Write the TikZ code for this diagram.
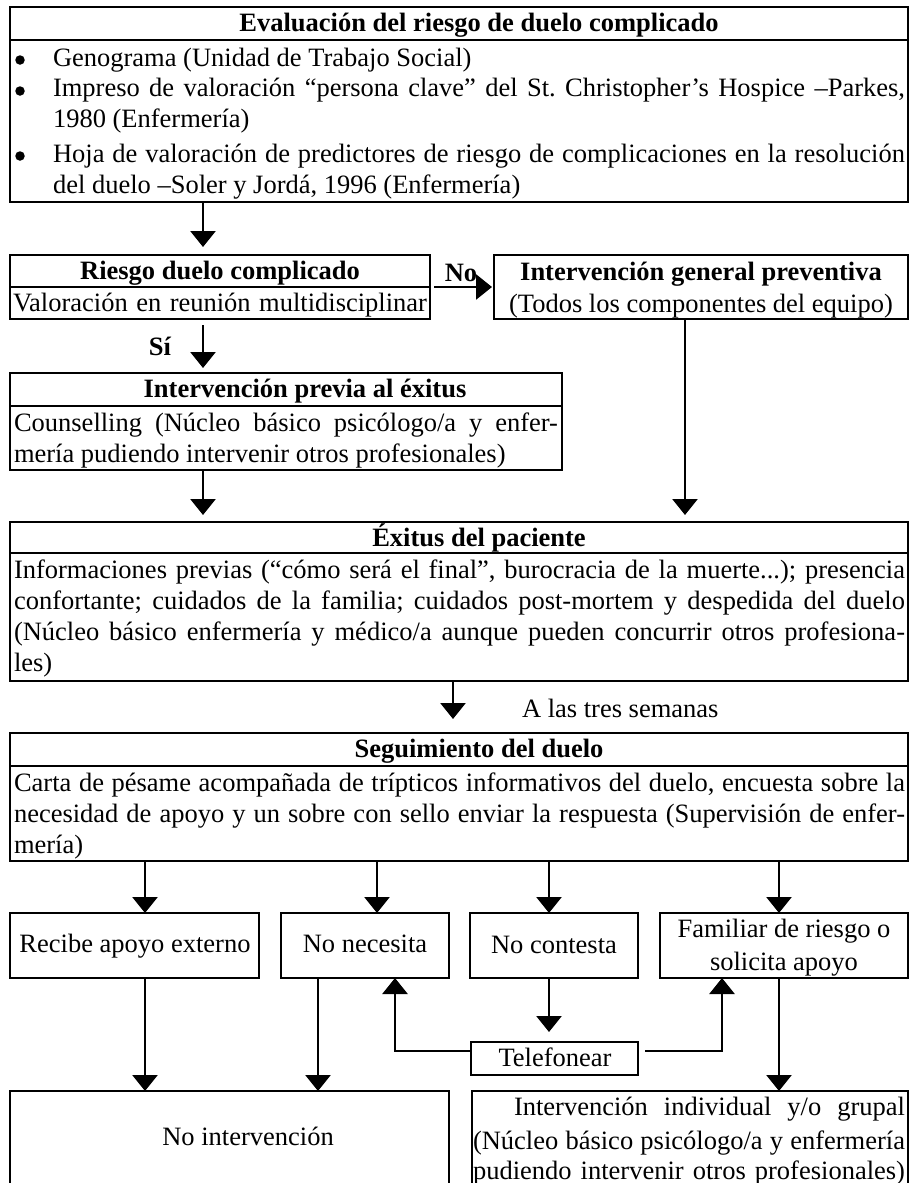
\documentclass[tikz,border=0pt]{standalone}
\usepackage{fontspec}
\setmainfont{Liberation Serif}
\usepackage{graphicx}
\usetikzlibrary{arrows.meta}
\newsavebox\jlbox
\newcommand\jl[2]{%
  \sbox\jlbox{#2}%
  \ifdim\wd\jlbox>#1\relax
    \resizebox{#1}{\height}{\usebox\jlbox}%
  \else
    \makebox[#1][s]{#2}%
  \fi}
\frenchspacing
\begin{document}
\begin{tikzpicture}[x=1pt,y=-1pt,
  box/.style={draw, line width=2pt, rectangle, inner sep=0pt, outer sep=0pt, anchor=north west},
  sepline/.style={line width=2pt},
  arr/.style={line width=2.7pt, -{Triangle[length=16pt,width=25pt]}},
  bul/.style={circle, fill, inner sep=0pt, minimum size=9.5pt},
  txt/.style={inner sep=0pt, outer sep=0pt, font=\fontsize{26.5pt}{31pt}\selectfont},
  tl/.style={txt, anchor=base west},
  tc/.style={txt, anchor=base},
  tb/.style={txt, anchor=base, font=\fontsize{26.5pt}{31pt}\selectfont\bfseries}]
\fill[white] (0,0) rectangle (910,1183);
\useasboundingbox (0,0) rectangle (910,1183);
\clip (0,0) rectangle (910,1183);

% boxes
\node[box, minimum width=898pt, minimum height=195pt] (eval) at (10,7) {};
\node[box, minimum width=420pt, minimum height=64pt] (riesgo) at (10,255) {};
\node[box, minimum width=414pt, minimum height=64pt] (general) at (494,255) {};
\node[box, minimum width=552pt, minimum height=97pt] (previa) at (10,373) {};
\node[box, minimum width=898pt, minimum height=159pt] (exitus) at (10,522) {};
\node[box, minimum width=898pt, minimum height=128pt] (seguim) at (10,733) {};
\node[box, minimum width=249pt, minimum height=65pt] (recibe) at (10,913) {};
\node[box, minimum width=168pt, minimum height=65pt] (nonec) at (281,913) {};
\node[box, minimum width=168pt, minimum height=65pt] (nocont) at (470,913) {};
\node[box, minimum width=248pt, minimum height=65pt] (famil) at (660,913) {};
\node[box, minimum width=167pt, minimum height=33pt] (telef) at (471,1042) {};
\node[box, minimum width=439pt, minimum height=130pt] (noint) at (10,1091) {};
\node[box, minimum width=436pt, minimum height=130pt] (indiv) at (472,1091) {};

% separators
\draw[sepline] ([yshift=-33pt]eval.north west) -- ([yshift=-33pt]eval.north east);
\draw[sepline] ([yshift=-32pt]riesgo.north west) -- ([yshift=-32pt]riesgo.north east);
\draw[sepline] ([yshift=-33pt]previa.north west) -- ([yshift=-33pt]previa.north east);
\draw[sepline] ([yshift=-31pt]exitus.north west) -- ([yshift=-31pt]exitus.north east);
\draw[sepline] ([yshift=-33pt]seguim.north west) -- ([yshift=-33pt]seguim.north east);

% texts: top box
\node[tb] (evt) at (479,31) {Evaluación del riesgo de duelo complicado};
\node[bul] (b1) at (20,60) {};
\node[tl] (e1) at (53,66) {Genograma (Unidad de Trabajo Social)};
\node[bul] (b2) at (20,91) {};
\node[tl] (e2) at (53,96) {\jl{852pt}{Impreso de valoración “persona clave” del St. Christopher’s Hospice –Parkes,}};
\node[tl] (e3) at (53,127) {1980 (Enfermería)};
\node[bul] (b3) at (20,156) {};
\node[tl] (e4) at (53,162) {\jl{852pt}{Hoja de valoración de predictores de riesgo de complicaciones en la resolución}};
\node[tl] (e5) at (53,193) {del duelo –Soler y Jordá, 1996 (Enfermería)};

% riesgo / general
\node[tb] (rt) at (220,279) {Riesgo duelo complicado};
\node[tl] (rv) at (13,311) {\jl{414pt}{Valoración en reunión multidisciplinar}};
\node[tb] (gt) at (701,280) {Intervención general preventiva};
\node[tc] (gv) at (701,312) {(Todos los componentes del equipo)};
\node[tb] (no) at (461,281) {No};
\node[tb] (si) at (160,355) {Sí};

% previa
\node[tb] (pt) at (305,397) {Intervención previa al éxitus};
\node[tl] (p1) at (14,431) {\jl{544pt}{Counselling (Núcleo básico psicólogo/a y enfer-}};
\node[tl] (p2) at (14,462) {mería pudiendo intervenir otros profesionales)};

% exitus
\node[tb] (xt) at (479,546) {Éxitus del paciente};
\node[tl] (x1) at (14,578) {\jl{891pt}{Informaciones previas (“cómo será el final”, burocracia de la muerte...); presencia}};
\node[tl] (x2) at (14,609) {\jl{891pt}{confortante; cuidados de la familia; cuidados post-mortem y despedida del duelo}};
\node[tl] (x3) at (14,640) {\jl{891pt}{(Núcleo básico enfermería y médico/a aunque pueden concurrir otros profesiona-}};
\node[tl] (x4) at (14,671) {les)};
\node[tl] (tres) at (522,717) {A las tres semanas};

% seguimiento
\node[tb] (st) at (479,757) {Seguimiento del duelo};
\node[tl] (s1) at (14,791) {\jl{891pt}{Carta de pésame acompañada de trípticos informativos del duelo, encuesta sobre la}};
\node[tl] (s2) at (14,822) {\jl{891pt}{necesidad de apoyo y un sobre con sello enviar la respuesta (Supervisión de enfer-}};
\node[tl] (s3) at (14,853) {mería)};

% middle row
\node[tc] (m1) at (135,952) {Recibe apoyo externo};
\node[tc] (m2) at (365,952) {No necesita};
\node[tc] (m3) at (554,953) {No contesta};
\node[tc] (m4a) at (784,937) {Familiar de riesgo o};
\node[tc] (m4b) at (784,970) {solicita apoyo};
\node[tc] (tf) at (555,1066) {Telefonear};

% bottom
\node[tc] (ni) at (248,1145) {No intervención};
\node[tl] (i1) at (514,1115) {\jl{391pt}{Intervención individual y/o grupal}};
\node[tl] (i2) at (473,1149) {\jl{432pt}{(Núcleo básico psicólogo/a y enfermería}};
\node[tl] (i3) at (473,1179) {\jl{432pt}{pudiendo intervenir otros profesionales)}};

% column coordinates
\coordinate (ca) at (203,0);
\coordinate (cg) at (685,0);
\coordinate (cx) at (453,0);
\coordinate (k1) at (145,0);
\coordinate (k2) at (377,0);
\coordinate (k3) at (549,0);
\coordinate (k4) at (779,0);
\coordinate (k5) at (318,0);
\coordinate (cl) at (395,0);
\coordinate (cr) at (722,0);
\coordinate (ry) at (0,287);
\coordinate (ty) at (0,1051);

% connectors
\draw[arr, shorten >=8pt] (eval.south -| ca) -- (riesgo.north -| ca);
\draw[arr, shorten <=6pt, shorten >=5pt] (riesgo.south -| ca) -- (previa.north -| ca);
\draw[arr, shorten <=4pt, shorten >=2pt] (riesgo.east |- ry) -- (general.west |- ry);
\draw[arr, shorten >=7pt] (previa.south -| ca) -- (exitus.north -| ca);
\draw[arr, shorten >=7pt] (general.south -| cg) -- (exitus.north -| cg);
\draw[arr, shorten >=14pt] (exitus.south -| cx) -- (seguim.north -| cx);
\draw[arr] (seguim.south -| k1) -- (recibe.north -| k1);
\draw[arr] (seguim.south -| k2) -- (nonec.north -| k2);
\draw[arr] (seguim.south -| k3) -- (nocont.north -| k3);
\draw[arr] (seguim.south -| k4) -- (famil.north -| k4);
\draw[arr] (recibe.south -| k1) -- (noint.north -| k1);
\draw[arr] (nonec.south -| k5) -- (noint.north -| k5);
\draw[arr, shorten >=10pt] (nocont.south -| k3) -- (telef.north -| k3);
\draw[arr] (famil.south -| k4) -- (indiv.north -| k4);
\draw[arr] (telef.west |- ty) -| (nonec.south -| cl);
\draw[arr, shorten <=7pt] (telef.east |- ty) -| (famil.south -| cr);
\end{tikzpicture}
\end{document}
